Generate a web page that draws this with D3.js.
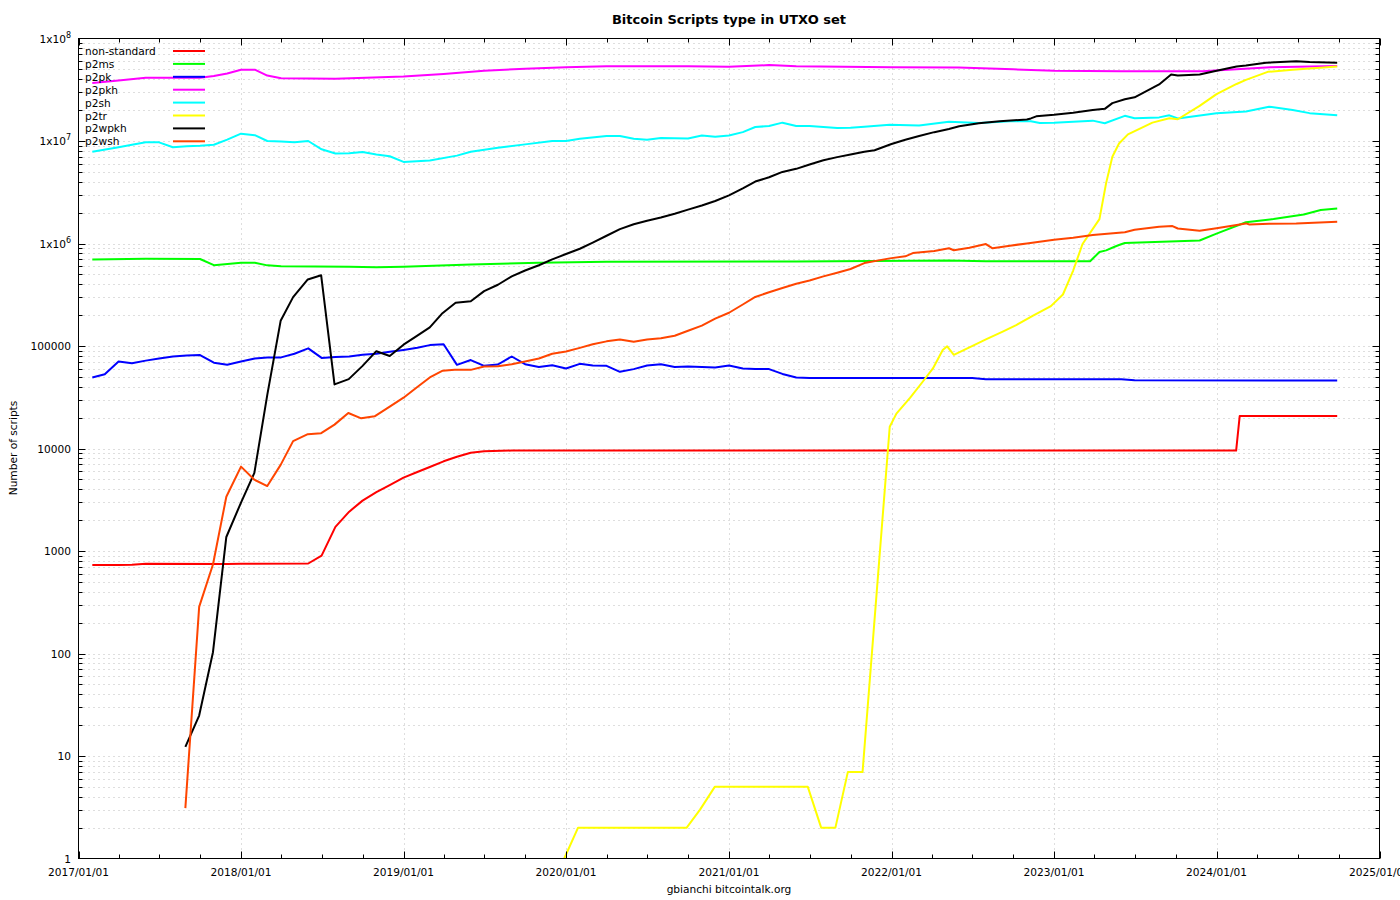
<!DOCTYPE html>
<html><head><meta charset="utf-8">
<script src="https://cdn.jsdelivr.net/npm/d3@7/dist/d3.min.js"></script>
<style>body{margin:0;background:#fff} svg text{font-family:"DejaVu Sans",sans-serif;fill:#000}</style>
</head><body><svg id="c" width="1400" height="900"></svg>
<script>
// ---------------- data ----------------
const seriesNames = ["non-standard","p2ms","p2pk","p2pkh","p2sh","p2tr","p2wpkh","p2wsh"];
const seriesColors = ["#ff0000","#00ff00","#0000ff","#ff00ff","#00ffff","#ffff00","#000000","#ff4500"];

const nonStandard = [["2017-02-01",730],["2017-04-01",730],["2017-05-01",735],["2017-06-01",752],["2017-12-01",745],["2018-01-01",752],["2018-06-01",755],["2018-07-01",900],["2018-08-01",1720],["2018-09-01",2420],["2018-10-01",3100],["2018-11-01",3750],["2018-12-01",4400],["2019-01-01",5200],["2019-02-01",5900],["2019-03-01",6600],["2019-04-01",7500],["2019-05-01",8300],["2019-06-01",9100],["2019-07-01",9400],["2019-09-01",9550],["2024-02-14",9550],["2024-02-22",20700],["2024-09-28",20700]];

const p2ms = [["2017-02-01",700e3],["2017-06-01",708e3],["2017-10-01",706e3],["2017-11-01",615e3],["2018-01-01",650e3],["2018-02-01",648e3],["2018-03-01",612e3],["2018-04-01",600e3],["2018-09-01",592e3],["2018-11-01",585e3],["2019-01-01",593e3],["2019-06-01",625e3],["2019-11-01",650e3],["2020-04-01",665e3],["2021-06-01",668e3],["2022-05-10",684e3],["2022-08-01",670e3],["2023-03-23",670e3],["2023-04-13",826e3],["2023-04-28",857e3],["2023-05-17",929e3],["2023-05-27",966e3],["2023-06-09",1.01e6],["2023-11-24",1.07e6],["2024-01-01",1.25e6],["2024-03-07",1.61e6],["2024-05-08",1.73e6],["2024-07-15",1.92e6],["2024-08-22",2.12e6],["2024-09-28",2.19e6]];

const p2pk = [["2017-02-01",49.3e3],["2017-03-01",53e3],["2017-04-01",70.5e3],["2017-05-01",68e3],["2017-06-01",72e3],["2017-07-01",75.5e3],["2017-08-01",79e3],["2017-09-01",81e3],["2017-10-01",81.5e3],["2017-11-01",68.7e3],["2017-12-01",65.5e3],["2018-01-01",70.5e3],["2018-02-01",75.5e3],["2018-03-01",77.4e3],["2018-04-01",77.4e3],["2018-05-01",84e3],["2018-06-01",94.8e3],["2018-07-01",76.5e3],["2018-08-01",78e3],["2018-09-01",79e3],["2018-10-01",82e3],["2018-11-01",84e3],["2018-12-01",88e3],["2019-01-01",91.6e3],["2019-02-01",96e3],["2019-03-01",102e3],["2019-04-01",104e3],["2019-05-01",65.5e3],["2019-06-01",72.9e3],["2019-07-01",64e3],["2019-08-01",66e3],["2019-09-01",79e3],["2019-10-01",66.4e3],["2019-11-01",62.5e3],["2019-12-01",64.8e3],["2020-01-01",60.3e3],["2020-02-01",67e3],["2020-03-01",64.5e3],["2020-04-01",64e3],["2020-05-01",56e3],["2020-06-01",59.5e3],["2020-07-01",64.5e3],["2020-08-01",66.3e3],["2020-09-01",62.5e3],["2020-10-01",63.2e3],["2020-11-01",62.5e3],["2020-12-01",61.7e3],["2021-01-01",64.5e3],["2021-02-01",60.3e3],["2021-03-01",59.5e3],["2021-04-01",59.5e3],["2021-05-01",53.4e3],["2021-06-01",49.2e3],["2021-07-01",48.6e3],["2022-07-01",48.6e3],["2022-08-01",47.5e3],["2023-06-01",47.5e3],["2023-07-01",46.4e3],["2024-09-28",46e3]];

const p2pkh = [["2017-02-01",36.8e6],["2017-04-01",39e6],["2017-06-01",41.5e6],["2017-10-01",41.3e6],["2017-11-01",43e6],["2017-12-01",45.6e6],["2018-01-01",49.6e6],["2018-02-01",49.6e6],["2018-03-01",43.5e6],["2018-04-01",40.9e6],["2018-08-01",40.5e6],["2019-01-01",42.5e6],["2019-04-01",45e6],["2019-07-01",48.4e6],["2019-10-01",50.8e6],["2020-01-01",52.3e6],["2020-04-01",53.5e6],["2020-10-01",53.5e6],["2021-01-01",53e6],["2021-04-01",55e6],["2021-06-01",53.5e6],["2022-01-01",52.5e6],["2022-06-01",52e6],["2022-10-01",50e6],["2023-01-01",48.5e6],["2023-06-01",47.8e6],["2023-12-01",48e6],["2024-05-01",52.5e6],["2024-09-28",53.8e6]];

const p2sh = [["2017-02-01",7.84e6],["2017-04-01",8.7e6],["2017-05-01",9.2e6],["2017-06-01",9.7e6],["2017-07-01",9.7e6],["2017-08-01",8.7e6],["2017-09-01",8.9e6],["2017-10-01",9.0e6],["2017-11-01",9.2e6],["2017-12-01",10.3e6],["2018-01-01",11.8e6],["2018-02-01",11.4e6],["2018-03-01",10e6],["2018-04-01",9.9e6],["2018-05-01",9.7e6],["2018-06-01",10e6],["2018-07-01",8.3e6],["2018-08-01",7.55e6],["2018-09-01",7.6e6],["2018-10-01",7.8e6],["2018-11-01",7.38e6],["2018-12-01",7.1e6],["2019-01-01",6.25e6],["2019-03-01",6.46e6],["2019-05-01",7.2e6],["2019-06-01",7.84e6],["2019-08-01",8.6e6],["2019-10-01",9.27e6],["2019-12-01",10e6],["2020-01-01",10e6],["2020-02-01",10.5e6],["2020-04-01",11.2e6],["2020-05-01",11.2e6],["2020-06-01",10.5e6],["2020-07-01",10.3e6],["2020-08-01",10.7e6],["2020-10-01",10.6e6],["2020-11-01",11.3e6],["2020-12-01",11e6],["2021-01-01",11.3e6],["2021-02-01",12.2e6],["2021-03-01",13.7e6],["2021-04-01",14e6],["2021-05-01",15.1e6],["2021-06-01",14e6],["2021-07-01",14e6],["2021-08-01",13.7e6],["2021-09-01",13.4e6],["2021-10-01",13.5e6],["2021-11-01",13.8e6],["2021-12-28",14.4e6],["2022-03-04",14.2e6],["2022-05-10",15.4e6],["2022-07-16",15e6],["2022-09-24",15.6e6],["2022-11-10",15.6e6],["2022-11-30",15e6],["2023-01-01",15.1e6],["2023-02-13",15.4e6],["2023-03-29",15.8e6],["2023-04-25",14.9e6],["2023-06-09",17.6e6],["2023-07-01",16.7e6],["2023-08-25",17e6],["2023-09-17",17.8e6],["2023-10-06",16.6e6],["2024-01-01",18.7e6],["2024-03-07",19.4e6],["2024-04-28",21.6e6],["2024-06-20",20.1e6],["2024-07-28",18.7e6],["2024-09-28",17.8e6]];

const p2tr = [["2019-12-28",1],["2020-01-28",2],["2020-09-28",2],["2020-10-28",3],["2020-11-30",5],["2021-06-27",5],["2021-07-27",2],["2021-08-28",2],["2021-09-25",7],["2021-10-28",7],["2021-12-28",16.3e3],["2022-01-12",21.9e3],["2022-02-12",31.3e3],["2022-03-12",44.8e3],["2022-04-04",60.4e3],["2022-04-26",91.4e3],["2022-05-06",99.4e3],["2022-05-21",82e3],["2022-06-25",97e3],["2022-08-01",116e3],["2022-09-09",139e3],["2022-10-08",160e3],["2022-11-15",198e3],["2022-12-25",245e3],["2023-01-21",318e3],["2023-02-13",545e3],["2023-03-06",988e3],["2023-04-13",1.73e6],["2023-04-28",3.88e6],["2023-05-12",7.03e6],["2023-05-27",9.46e6],["2023-06-16",11.6e6],["2023-08-10",15.1e6],["2023-09-17",16.7e6],["2023-10-06",16.3e6],["2023-11-24",22e6],["2024-01-01",28.7e6],["2024-02-15",36e6],["2024-03-07",39.5e6],["2024-04-25",47.3e6],["2024-06-20",49.6e6],["2024-09-28",53.2e6]];

const p2wpkh = [["2017-08-29",12.3],["2017-09-29",24.8],["2017-10-30",103],["2017-11-29",1370],["2018-01-01",2970],["2018-01-31",5780],["2018-03-01",33.3e3],["2018-03-31",176e3],["2018-04-28",300e3],["2018-05-31",446e3],["2018-06-30",490e3],["2018-07-30",42.2e3],["2018-08-31",47.5e3],["2018-10-01",64e3],["2018-11-01",89e3],["2018-12-01",80e3],["2019-01-01",103e3],["2019-02-01",126e3],["2019-03-01",152e3],["2019-03-28",206e3],["2019-04-28",264e3],["2019-06-01",273e3],["2019-07-01",343e3],["2019-08-01",396e3],["2019-09-01",478e3],["2019-10-01",545e3],["2019-11-01",614e3],["2019-12-01",700e3],["2020-01-01",789e3],["2020-02-01",889e3],["2020-03-01",1.02e6],["2020-04-01",1.19e6],["2020-05-01",1.38e6],["2020-06-01",1.54e6],["2020-07-01",1.67e6],["2020-08-01",1.79e6],["2020-09-01",1.95e6],["2020-10-01",2.14e6],["2020-11-01",2.35e6],["2020-12-01",2.6e6],["2021-01-01",2.95e6],["2021-02-01",3.45e6],["2021-03-01",4.02e6],["2021-04-01",4.43e6],["2021-05-01",4.99e6],["2021-06-01",5.35e6],["2021-07-01",5.89e6],["2021-08-01",6.48e6],["2021-09-01",6.96e6],["2021-10-01",7.38e6],["2021-11-01",7.84e6],["2021-11-24",8.13e6],["2022-01-01",9.36e6],["2022-02-01",10.3e6],["2022-03-04",11.2e6],["2022-04-07",12.2e6],["2022-05-10",13.1e6],["2022-06-02",13.9e6],["2022-07-16",14.9e6],["2022-09-01",15.6e6],["2022-11-01",16.2e6],["2022-11-10",16.6e6],["2022-11-22",17.4e6],["2023-01-01",18e6],["2023-02-13",18.9e6],["2023-03-29",20.1e6],["2023-04-25",20.6e6],["2023-05-12",23.4e6],["2023-06-09",25.5e6],["2023-07-01",26.7e6],["2023-08-25",35.6e6],["2023-09-21",44.5e6],["2023-10-06",43.5e6],["2023-11-24",44.5e6],["2024-01-01",48.4e6],["2024-02-15",53.2e6],["2024-03-07",54.4e6],["2024-04-21",58e6],["2024-06-28",60e6],["2024-07-28",59e6],["2024-09-28",58e6]];

const p2wsh = [["2017-08-29",3.1],["2017-09-29",285],["2017-10-30",738],["2017-11-29",3380],["2018-01-01",6660],["2018-01-31",4960],["2018-03-01",4300],["2018-03-31",6920],["2018-04-28",11.8e3],["2018-05-31",13.8e3],["2018-06-30",14.1e3],["2018-07-30",17.1e3],["2018-08-30",22.2e3],["2018-09-28",19.7e3],["2018-10-28",20.6e3],["2018-12-01",25.6e3],["2019-01-01",31.3e3],["2019-02-01",39.8e3],["2019-03-01",49.3e3],["2019-03-30",57.5e3],["2019-04-26",58.5e3],["2019-06-01",58.5e3],["2019-07-01",63.2e3],["2019-08-01",63.5e3],["2019-09-01",66.3e3],["2019-10-01",70.5e3],["2019-11-01",75.6e3],["2019-12-01",84.1e3],["2020-01-01",88.3e3],["2020-02-01",95.9e3],["2020-03-01",104e3],["2020-04-01",111e3],["2020-05-01",116e3],["2020-06-01",110e3],["2020-07-01",116e3],["2020-08-01",119e3],["2020-09-01",126e3],["2020-10-01",141e3],["2020-11-01",158e3],["2020-12-01",185e3],["2021-01-01",211e3],["2021-02-01",254e3],["2021-03-01",301e3],["2021-04-01",335e3],["2021-05-01",368e3],["2021-06-01",405e3],["2021-07-01",435e3],["2021-08-01",478e3],["2021-09-01",519e3],["2021-10-01",564e3],["2021-11-01",644e3],["2021-12-28",716e3],["2022-02-01",750e3],["2022-02-18",807e3],["2022-04-07",845e3],["2022-05-10",898e3],["2022-05-21",860e3],["2022-06-25",908e3],["2022-08-01",988e3],["2022-08-16",898e3],["2022-09-24",953e3],["2022-11-01",1.0e6],["2023-01-01",1.09e6],["2023-02-13",1.14e6],["2023-03-29",1.21e6],["2023-06-09",1.29e6],["2023-07-01",1.36e6],["2023-08-25",1.46e6],["2023-09-24",1.48e6],["2023-10-06",1.4e6],["2023-11-24",1.33e6],["2024-01-01",1.41e6],["2024-03-07",1.57e6],["2024-03-15",1.53e6],["2024-04-28",1.56e6],["2024-06-28",1.57e6],["2024-09-28",1.63e6]];

const seriesData = [nonStandard, p2ms, p2pk, p2pkh, p2sh, p2tr, p2wpkh, p2wsh];

const xTickYears = [2017,2018,2019,2020,2021,2022,2023,2024,2025];
const yTickValues = [1,10,100,1000,10000,100000,1e6,1e7,1e8];
const yTickLabels = [["1"],["10"],["100"],["1000"],["10000"],["100000"],["1x10","6"],["1x10","7"],["1x10","8"]];
const titleText = "Bitcoin Scripts type in UTXO set";
const xLabelText = "gbianchi bitcointalk.org";
const yLabelText = "Number of scripts";

// ---------------- drawing ----------------
const L = 78.5, R = 1379.5, T = 38.5, B = 858.5;
const svg = d3.select("#c");
const parse = d3.utcParse("%Y-%m-%d");
const x = d3.scaleUtc().domain([new Date(Date.UTC(2017,0,1)), new Date(Date.UTC(2025,0,1))]).range([L, R]);
const y = d3.scaleLog().domain([1, 1e8]).range([B, T]);

// grid
const grid = svg.append("g").attr("stroke", "#bcbcbc").attr("stroke-width", 1).attr("stroke-dasharray", "1,4");
const yGridVals = [];
for (let d = 0; d < 8; d++) for (let m = 1; m <= 9; m++) { const v = m * Math.pow(10, d); if (v > 1) yGridVals.push(v); }
grid.selectAll("line.h").data(yGridVals).join("line")
  .attr("x1", L).attr("x2", R).attr("y1", d => Math.round(y(d)) + 0.5).attr("y2", d => Math.round(y(d)) + 0.5);
const majorDates = xTickYears.map(yr => new Date(Date.UTC(yr, 0, 1)));
grid.selectAll("line.v").data(majorDates.slice(1, -1)).join("line")
  .attr("y1", T).attr("y2", B).attr("x1", d => Math.round(x(d)) + 0.5).attr("x2", d => Math.round(x(d)) + 0.5);

// series
const line = d3.line().x(d => x(parse(d[0]))).y(d => y(d[1]));
svg.append("g").selectAll("path").data(seriesData).join("path")
  .attr("d", line).attr("fill", "none")
  .attr("stroke", (d, i) => seriesColors[i]).attr("stroke-width", 2)
  .attr("stroke-linejoin", "round");

// frame
svg.append("rect").attr("x", L).attr("y", T).attr("width", R - L).attr("height", B - T)
  .attr("fill", "none").attr("stroke", "#000").attr("stroke-width", 1);

// ticks
const ticks = svg.append("g").attr("stroke", "#000").attr("stroke-width", 1);
const minorDates = d3.utcMonth.every(3).range(majorDates[0], majorDates[8]).filter(d => d.getUTCMonth() !== 0);
majorDates.forEach(d => {
  const px = Math.round(x(d)) + 0.5;
  ticks.append("line").attr("x1", px).attr("x2", px).attr("y1", B).attr("y2", B - 7);
  ticks.append("line").attr("x1", px).attr("x2", px).attr("y1", T).attr("y2", T + 7);
});
minorDates.forEach(d => {
  const px = Math.round(x(d)) + 0.5;
  ticks.append("line").attr("x1", px).attr("x2", px).attr("y1", B).attr("y2", B - 4);
  ticks.append("line").attr("x1", px).attr("x2", px).attr("y1", T).attr("y2", T + 4);
});
yGridVals.forEach(v => {
  const py = Math.round(y(v)) + 0.5;
  const lg10 = Math.log10(v);
  const len = Math.abs(lg10 - Math.round(lg10)) < 1e-9 ? 7 : 4;
  ticks.append("line").attr("x1", L).attr("x2", L + len).attr("y1", py).attr("y2", py);
  ticks.append("line").attr("x1", R).attr("x2", R - len).attr("y1", py).attr("y2", py);
});

// tick labels
const fs = 10.6;
svg.append("g").selectAll("text").data(majorDates).join("text")
  .attr("x", d => x(d)).attr("y", B + 17).attr("text-anchor", "middle").attr("font-size", fs)
  .text(d => d3.utcFormat("%Y/%m/%d")(d));
const yl = svg.append("g").selectAll("text").data(yTickValues).join("text")
  .attr("x", 71).attr("y", d => y(d) + 4).attr("text-anchor", "end").attr("font-size", fs);
yl.each(function(d, i) {
  const t = d3.select(this);
  const lab = yTickLabels[i];
  t.append("tspan").text(lab[0]);
  if (lab.length > 1) t.append("tspan").attr("dy", -5).attr("font-size", 8).text(lab[1]);
});

// titles
svg.append("text").attr("x", 729).attr("y", 24).attr("text-anchor", "middle")
  .attr("font-size", 13).attr("font-weight", "bold").text(titleText);
svg.append("text").attr("x", 729).attr("y", 893).attr("text-anchor", "middle").attr("font-size", fs).text(xLabelText);
svg.append("text").attr("transform", "translate(17,448) rotate(-90)").attr("text-anchor", "middle")
  .attr("font-size", fs).text(yLabelText);

// legend
const lg = svg.append("g");
seriesNames.forEach((n, i) => {
  const cy = 51 + i * 12.9;
  lg.append("text").attr("x", 85).attr("y", cy + 4).attr("font-size", fs).text(n);
  lg.append("line").attr("x1", 173).attr("x2", 205).attr("y1", cy).attr("y2", cy)
    .attr("stroke", seriesColors[i]).attr("stroke-width", 2);
});
</script></body></html>
